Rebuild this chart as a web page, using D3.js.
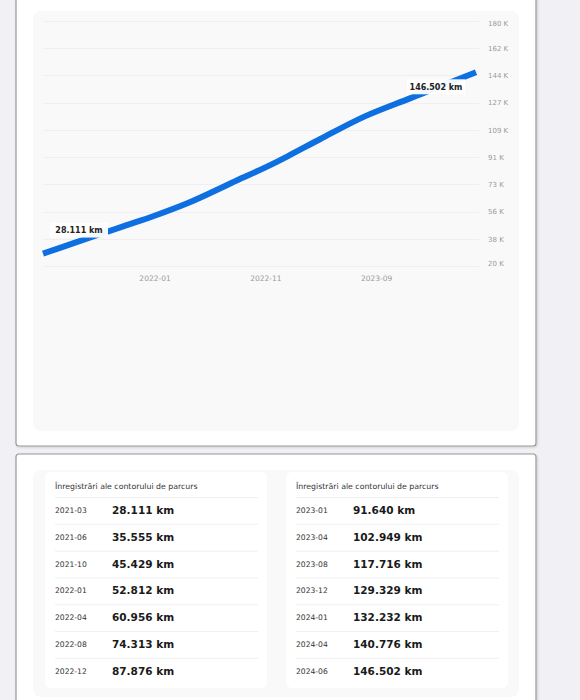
<!DOCTYPE html>
<html>
<head>
<meta charset="utf-8">
<script src="https://cdn.jsdelivr.net/npm/d3@7"></script>
<style>
  body { margin: 0; background: #f0f0f5; font-family: "DejaVu Sans", sans-serif; }
  svg { display: block; }
</style>
</head>
<body>
<div id="my_dataviz"></div>
<script>
// odometer readings
const months = ["2021-03", "2021-06", "2021-10", "2022-01", "2022-04", "2022-08", "2022-12",
                "2023-01", "2023-04", "2023-08", "2023-12", "2024-01", "2024-04", "2024-06"];
const km = [28111, 35555, 45429, 52812, 60956, 74313, 87876,
            91640, 102949, 117716, 129329, 132232, 140776, 146502];
const xTickLabels = ["2022-01", "2022-11", "2023-09"];
const yTickValues = [20000, 37778, 55556, 73333, 91111, 108889, 126667, 144444, 162222, 180000];
const tableTitle = "Înregistrări ale contorului de parcurs";

const width = 580, height = 700;
const parseMonth = d3.timeParse("%Y-%m");
const ro = d3.formatLocale({decimal: ",", thousands: ".", grouping: [3], currency: ["", ""]});
const fmtKm = v => ro.format(",")(v) + " km";

const data = months.map((m, i) => ({date: parseMonth(m), label: m, value: km[i]}));

const svg = d3.select("#my_dataviz")
  .append("svg")
    .attr("width", width)
    .attr("height", height);

const defs = svg.append("defs");
const shadow = defs.append("filter").attr("id", "shadow")
  .attr("x", "-5%").attr("y", "-5%").attr("width", "110%").attr("height", "110%");
shadow.append("feDropShadow").attr("dx", 1).attr("dy", 1).attr("stdDeviation", 1)
  .attr("flood-color", "#000").attr("flood-opacity", 0.15);

// cards
svg.append("rect").attr("x", 16).attr("y", -10).attr("width", 520).attr("height", 456)
  .attr("rx", 3).attr("fill", "#fff").attr("stroke", "#999").attr("stroke-width", 1.2)
  .attr("filter", "url(#shadow)");
svg.append("rect").attr("x", 16).attr("y", 454).attr("width", 520).attr("height", 270)
  .attr("rx", 3).attr("fill", "#fff").attr("stroke", "#999").attr("stroke-width", 1.2)
  .attr("filter", "url(#shadow)");

// chart panel
svg.append("rect").attr("x", 33).attr("y", 11).attr("width", 486).attr("height", 420)
  .attr("rx", 8).attr("fill", "#f9f9f9");

const x = d3.scaleTime()
  .domain(d3.extent(data, d => d.date))
  .range([43, 476]);

const y = d3.scaleLinear()
  .domain([20000, 180000])
  .range([266, 21]);

const chart = svg.append("g");

// gridlines
chart.append("g")
  .selectAll("line")
  .data(yTickValues)
  .join("line")
    .attr("x1", 43).attr("x2", 479)
    .attr("y1", d => Math.round(y(d)) + 0.5)
    .attr("y2", d => Math.round(y(d)) + 0.5)
    .attr("stroke", "#efefef").attr("stroke-width", 1);

// y axis on the right
const yAxis = chart.append("g")
  .attr("transform", "translate(488,0)")
  .call(d3.axisRight(y).tickValues(yTickValues).tickSize(0)
          .tickFormat(d => Math.round(d / 1000) + " K"));
yAxis.select(".domain").remove();
yAxis.selectAll("text")
  .attr("x", 0)
  .attr("fill", "#9a9a9a")
  .style("font-family", "DejaVu Sans, sans-serif")
  .style("font-size", "7px")
  .attr("dy", (d, i) => i === 0 ? "-0.05em" : i === yTickValues.length - 1 ? "0.7em" : "0.32em");

// x axis
const xAxis = chart.append("g")
  .attr("transform", "translate(0,273)")
  .call(d3.axisBottom(x).tickValues(xTickLabels.map(parseMonth)).tickSize(0)
          .tickFormat(d3.timeFormat("%Y-%m")));
xAxis.select(".domain").remove();
xAxis.selectAll("text")
  .attr("fill", "#9a9a9a")
  .style("font-family", "DejaVu Sans, sans-serif")
  .style("font-size", "7.5px");

const line = d3.line()
  .curve(d3.curveMonotoneX)
  .x(d => x(d.date))
  .y(d => y(d.value));

chart.append("path")
  .datum(data)
  .attr("fill", "none")
  .attr("stroke", "#0d6fe0")
  .attr("stroke-width", 6)
  .attr("d", line);

// first / last labels
const ends = [
  {d: data[0], dx: 36, dy: -23},
  {d: data[data.length - 1], dx: -40, dy: 15}
];
const lbl = chart.selectAll(".endLabel")
  .data(ends)
  .join("g")
    .attr("class", "endLabel")
    .attr("transform", e => `translate(${x(e.d.date) + e.dx},${y(e.d.value) + e.dy})`);
lbl.append("rect")
  .attr("x", -29).attr("y", -8).attr("width", 58).attr("height", 15)
  .attr("fill", "#fff").attr("opacity", 0.95);
lbl.append("text")
  .attr("text-anchor", "middle")
  .attr("dy", "0.32em")
  .attr("fill", "#222")
  .style("font-family", "DejaVu Sans, sans-serif")
  .style("font-weight", "bold")
  .style("font-size", "8px")
  .text(e => fmtKm(e.d.value));

// tables
svg.append("rect").attr("x", 33).attr("y", 470).attr("width", 486).attr("height", 227)
  .attr("rx", 8).attr("fill", "#f9f9f9");

const halves = [data.slice(0, 7), data.slice(7)];
const tables = svg.selectAll(".table")
  .data(halves)
  .join("g")
    .attr("class", "table")
    .attr("transform", (d, i) => `translate(${i === 0 ? 45 : 286},472)`);

tables.append("rect")
  .attr("width", 222).attr("height", 216).attr("rx", 6)
  .attr("fill", "#fff");

tables.append("text")
  .attr("x", 10).attr("y", 17)
  .attr("fill", "#333")
  .style("font-size", "7.8px")
  .text(tableTitle);

const rows = tables.selectAll(".row")
  .data(d => d)
  .join("g")
    .attr("class", "row")
    .attr("transform", (d, i) => `translate(10,${25 + i * 26.8})`);

rows.append("line")
  .attr("x1", 0).attr("x2", 203)
  .attr("y1", 0.5).attr("y2", 0.5)
  .attr("stroke", "#efefef");

rows.append("text")
  .attr("x", 0).attr("y", 13.4).attr("dy", "0.35em")
  .attr("fill", "#333")
  .style("font-size", "7.6px")
  .text(d => d.label);

rows.append("text")
  .attr("x", 57).attr("y", 13.4).attr("dy", "0.35em")
  .attr("fill", "#1a1a1a")
  .style("font-weight", "bold")
  .style("font-size", "10.5px")
  .text(d => fmtKm(d.value));
</script>
</body>
</html>
